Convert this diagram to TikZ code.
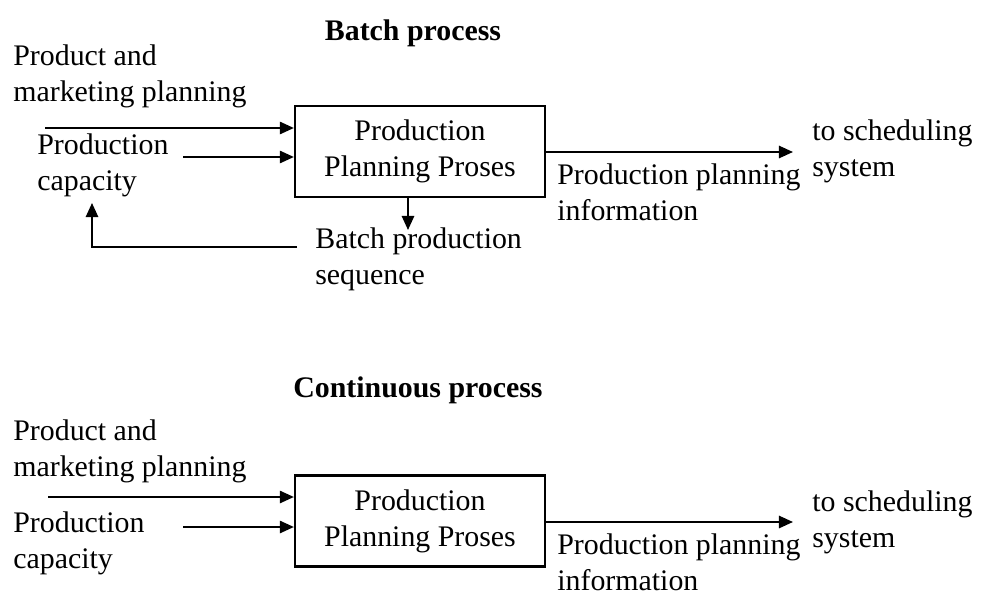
\documentclass[tikz,border=0pt]{standalone}
\usepackage{fontspec}
\setmainfont{Liberation Serif}
\usetikzlibrary{positioning,arrows.meta}
\begin{document}
\begin{tikzpicture}[x=0.02cm,y=-0.02cm,font=\fontsize{17}{20.5}\selectfont]
\tikzstyle{prc}=[rectangle, draw, line width=1.3pt, minimum width=5cm,
                 minimum height=1.82cm, align=center, inner sep=2pt]
\tikzstyle{lbl}=[anchor=west, align=left, inner sep=0pt]
\tikzstyle{ttl}=[inner sep=0pt, font=\fontsize{17}{20.5}\selectfont\bfseries]
\tikzstyle{flow}=[line width=1.1pt, -{Triangle[length=8pt,width=7pt]}]
\useasboundingbox (0,0) rectangle (984,598);
% batch process
\node[ttl] (T1) at (413,33) {Batch process};
\node[lbl] (PM1) at (13,76.5) {Product and\\marketing planning};
\node[lbl] (PC1) at (37,165) {Production\\capacity};
\node[prc] (P1) at (420,151.5) {Production\\Planning Proses};
\node[lbl] (BS1) at (315,259.5) {Batch production\\sequence};
\node[lbl] (PI1) at (557,192.5) {Production planning\\information};
\node[lbl] (TS1) at (812,151) {to scheduling\\system};
\coordinate (m1) at (45,128);
\coordinate (c1) at (183,157);
\coordinate (s1) at (793,152);
\coordinate (d1) at (408,230);
\coordinate (f1) at (297,247);
\coordinate (k1) at (92,203);
% continuous process
\node[ttl] (T2) at (418,390) {Continuous process};
\node[lbl] (PM2) at (13,451) {Product and\\marketing planning};
\node[lbl] (PC2) at (13,543.5) {Production\\capacity};
\node[prc] (P2) at (420,521) {Production\\Planning Proses};
\node[lbl] (PI2) at (557,562.5) {Production planning\\information};
\node[lbl] (TS2) at (812,522) {to scheduling\\system};
\coordinate (m2) at (48,497);
\coordinate (c2) at (183,527);
\coordinate (s2) at (793,522);
\foreach \n in {1,2}{
  \draw[flow] (m\n) -- (m\n -| P\n.west);
  \draw[flow] (c\n) -- (c\n -| P\n.west);
  \draw[flow] (s\n -| P\n.east) -- (s\n);
}
\draw[flow] (d1 |- P1.south) -- (d1);
\draw[flow] (f1) -| (k1);
\end{tikzpicture}
\end{document}
